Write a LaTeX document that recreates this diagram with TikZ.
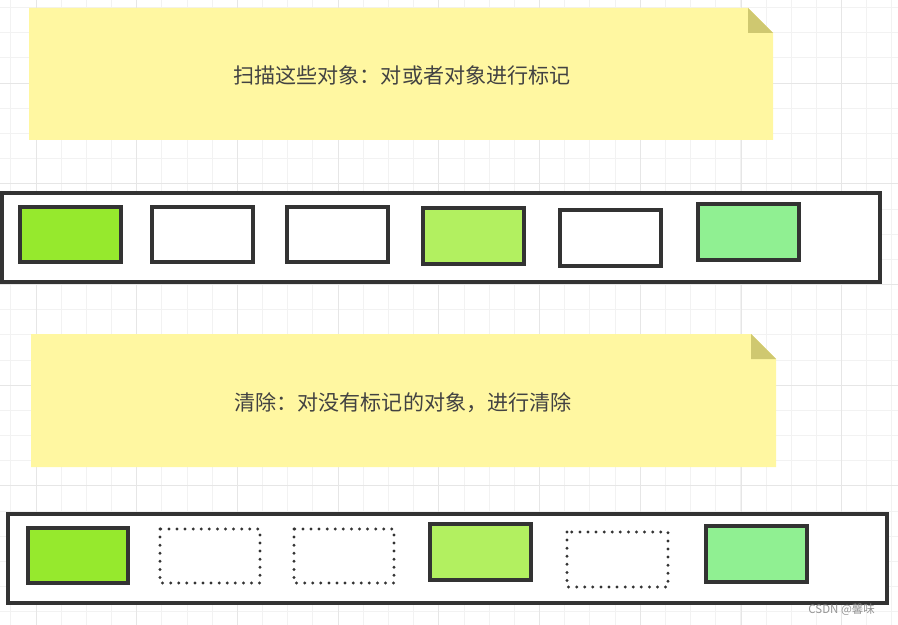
\documentclass[tikz,border=0pt]{standalone}
\usepackage{fontspec}
\usepackage{tikz}
\usetikzlibrary{positioning}
\newfontfamily\cjk{Noto Sans CJK SC}
\definecolor{note area}{RGB}{255,247,161}
\definecolor{note fold}{RGB}{207,200,112}
\definecolor{box edge}{RGB}{51,51,51}
\definecolor{obj live}{RGB}{150,233,45}
\definecolor{obj mark}{RGB}{178,240,96}
\definecolor{obj new}{RGB}{144,240,146}
\definecolor{grid minor}{RGB}{242,242,242}
\definecolor{grid major}{RGB}{230,230,230}
\tikzset{note/.style={fill=note area},
    fold/.style={fill=note fold},
    heap/.style={draw=box edge, line width=3pt, fill=white},
    object/.style={draw=box edge, line width=3pt},
    freed/.style={draw=box edge, line width=2.8pt, line cap=round, dash pattern=on 0pt off 6.9pt},
    notetext/.style={font=\cjk\fontsize{18}{20}\selectfont, text=black!74},
    watermark/.style={font=\cjk\fontsize{9.8}{11}\selectfont, text=black!42}}

\begin{document}
\begin{tikzpicture}[x=0.03cm, y=-0.03cm]
\useasboundingbox (0,0) rectangle (898,625);
% background grid
\foreach \i in {0,...,35}
	\draw[grid minor, line width=0.6pt] ({10.8+25.17*\i},0) -- ({10.8+25.17*\i},625);
\foreach \i in {0,...,24}
	\draw[grid minor, line width=0.6pt] (0,{7.5+25.17*\i}) -- (898,{7.5+25.17*\i});
\foreach \i in {0,...,8}
	\draw[grid major, line width=0.6pt] ({36+100.7*\i},0) -- ({36+100.7*\i},625);
\foreach \i in {0,...,5}
	\draw[grid major, line width=0.6pt] (0,{83+100.7*(\i-1)}) -- (898,{83+100.7*(\i-1)});

% first step: marking
\fill[note] (29,8) -- (748,8) -- (773,33) -- (773,140) -- (29,140) -- cycle;
\fill[fold] (748,8) -- (748,33) -- (773,33) -- cycle;
\node[notetext] (scan) at (402,75) {扫描这些对象：对或者对象进行标记};
\draw[heap] (2,193) rectangle (880,282);
\draw[object, fill=obj live] (20,207) rectangle (121,262);
\draw[object, fill=white] (152,207) rectangle (253,262);
\draw[object, fill=white] (287,207) rectangle (388,262);
\draw[object, fill=obj mark] (423,208) rectangle (524,264);
\draw[object, fill=white] (560,210) rectangle (661,266);
\draw[object, fill=obj new] (698,204) rectangle (799,260);

% second step: sweeping
\fill[note] (31,334) -- (751,334) -- (776,359) -- (776,467) -- (31,467) -- cycle;
\fill[fold] (751,334) -- (751,359) -- (776,359) -- cycle;
\node[notetext] (sweep) at (403,403) {清除：对没有标记的对象，进行清除};
\draw[heap] (8,514) rectangle (887,603);
\draw[object, fill=obj live] (28,528) rectangle (128,583);
\draw[freed] (160,529) rectangle (260,583);
\draw[freed] (294,529) rectangle (394,583);
\draw[object, fill=obj mark] (430,524) rectangle (531,580);
\draw[freed] (567,532) rectangle (668,587);
\draw[object, fill=obj new] (706,526) rectangle (807,582);

\node[watermark, anchor=east] (csdn) at (879,610) {CSDN @馨味};
\end{tikzpicture}
\end{document}
